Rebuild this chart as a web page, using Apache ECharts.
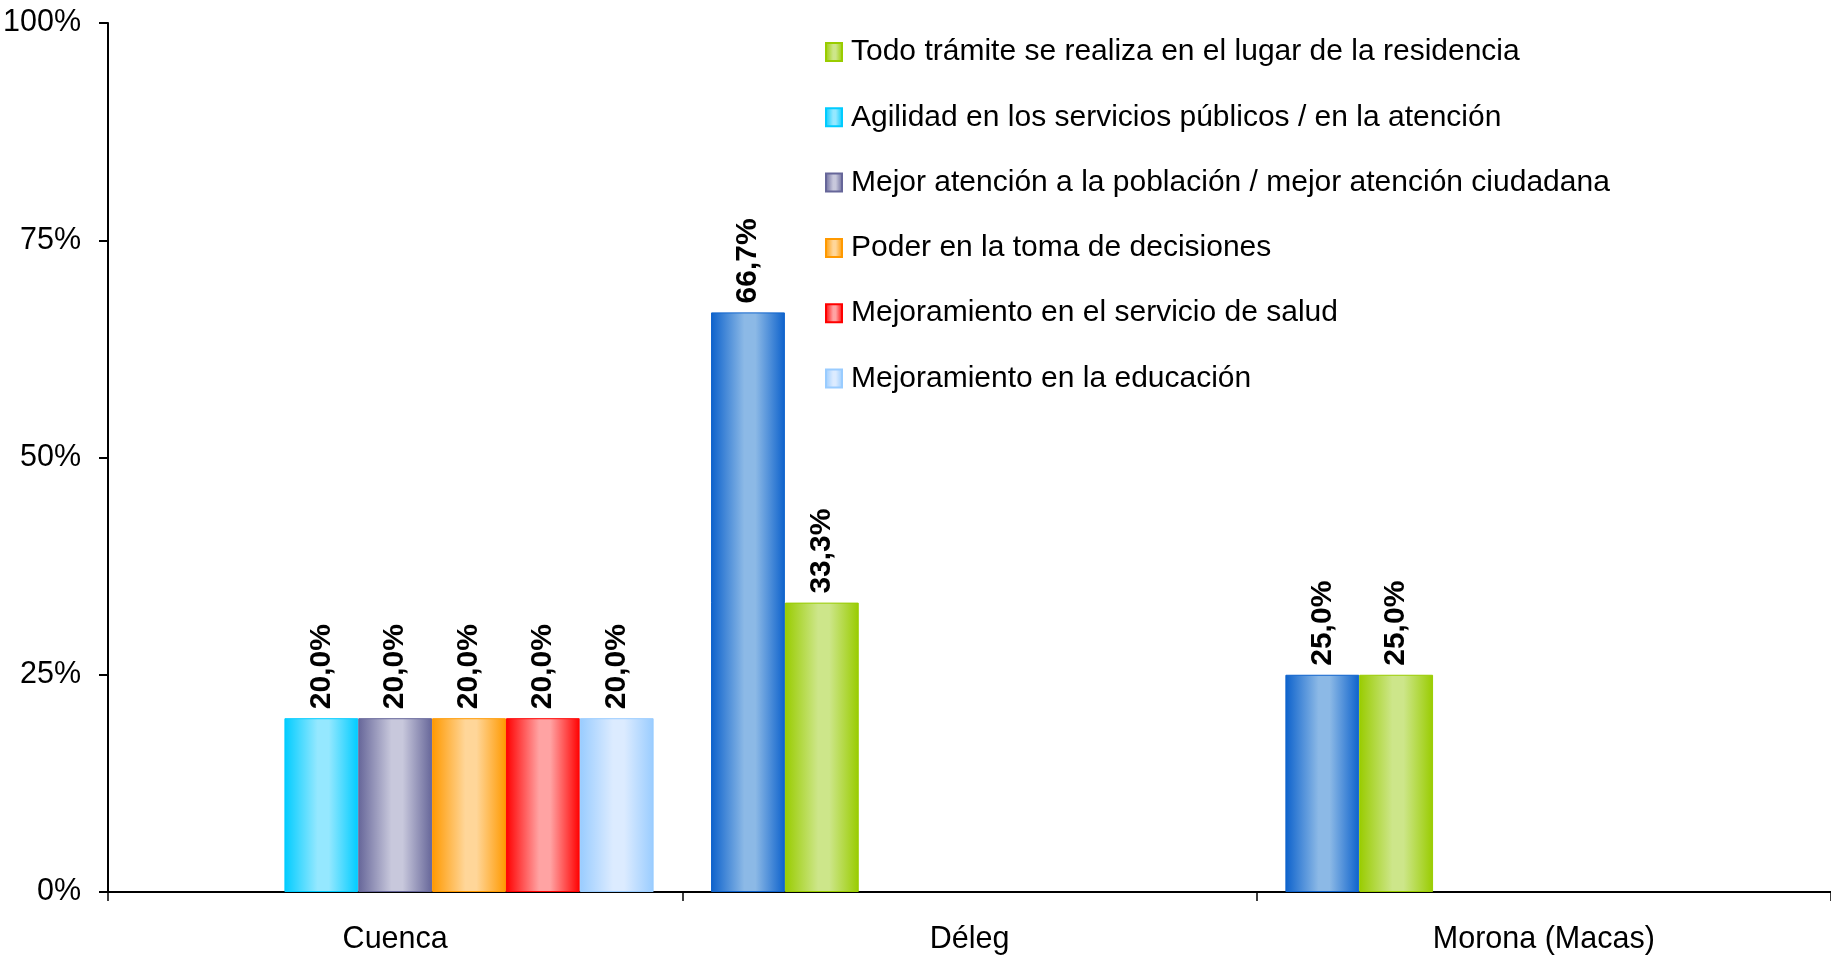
<!DOCTYPE html>
<html>
<head>
<meta charset="utf-8">
<script src="https://cdn.jsdelivr.net/npm/echarts@6/dist/echarts.min.js"></script>
<style>
html,body{margin:0;padding:0;background:#fff;}
#chart{width:1831px;height:959px;}
</style>
</head>
<body>
<div id="chart"></div>
<script>
const categories = ['Cuenca', 'Déleg', 'Morona (Macas)'];
const seriesNames = [
  'Otros',
  'Todo trámite se realiza en el lugar de la residencia',
  'Agilidad en los servicios públicos / en la atención',
  'Mejor atención a la población / mejor atención ciudadana',
  'Poder en la toma de decisiones',
  'Mejoramiento en el servicio de salud',
  'Mejoramiento en la educación'
];
const valuesOtros = [null, 66.7, 25.0];
const valuesTodoTramite = [null, 33.3, 25.0];
const valuesAgilidad = [20.0, null, null];
const valuesMejorAtencion = [20.0, null, null];
const valuesPoder = [20.0, null, null];
const valuesSalud = [20.0, null, null];
const valuesEducacion = [20.0, null, null];
const legendNames = seriesNames.slice(1);
const yTicks = [0, 25, 50, 75, 100];

const allValues = [valuesOtros, valuesTodoTramite, valuesAgilidad, valuesMejorAtencion, valuesPoder, valuesSalud, valuesEducacion];
const palette = [
  ['#0d62cc', '#8cb9e6'],
  ['#99cc00', '#cde68a'],
  ['#00ccff', '#95e8ff'],
  ['#666699', '#c8c8dc'],
  ['#ff9900', '#ffd699'],
  ['#ff0000', '#ffa3a3'],
  ['#99ccff', '#dcebff']
];
function grad(edge, mid) {
  return new echarts.graphic.LinearGradient(0, 0, 1, 0, [
    {offset: 0, color: edge},
    {offset: 0.45, color: mid},
    {offset: 0.6, color: mid},
    {offset: 1, color: edge}
  ]);
}
const FONT = 'Liberation Sans';
const series = seriesNames.map((name, i) => ({
  name: name,
  type: 'bar',
  data: allValues[i],
  barGap: '0%',
  barCategoryGap: '10%',
  itemStyle: {
    color: grad(palette[i][0], palette[i][1]),
    borderColor: palette[i][0],
    borderWidth: 1
  },
  label: {
    show: true,
    position: 'top',
    rotate: 90,
    align: 'left',
    verticalAlign: 'middle',
    distance: 9,
    fontFamily: FONT,
    fontSize: 30,
    fontWeight: 'bold',
    color: '#000',
    formatter: p => p.value == null ? '' : p.value.toFixed(1).replace('.', ',') + '%'
  }
}));

const chart = echarts.init(document.getElementById('chart'));
chart.setOption({
  animation: false,
  backgroundColor: '#fff',
  grid: {left: 107, right: -6, top: 23, bottom: 67, containLabel: false},
  legend: {
    data: legendNames,
    orient: 'vertical',
    left: 820,
    top: 32,
    itemWidth: 16,
    itemHeight: 18,
    itemGap: 35.3,
    icon: 'rect',
    textStyle: {fontFamily: FONT, fontSize: 30, color: '#000', padding: [0, 0, 0, 4]}
  },
  xAxis: {
    type: 'category',
    data: categories,
    axisLine: {lineStyle: {color: '#000', width: 2}},
    axisTick: {show: true, length: 9, lineStyle: {color: '#000', width: 1.5}},
    axisLabel: {fontFamily: FONT, fontSize: 30.5, color: '#000', margin: 32}
  },
  yAxis: {
    type: 'value',
    min: yTicks[0],
    max: yTicks[yTicks.length - 1],
    interval: 25,
    splitLine: {show: false},
    axisLine: {show: true, lineStyle: {color: '#000', width: 2}},
    axisTick: {show: true, length: 9, lineStyle: {color: '#000', width: 2}},
    axisLabel: {fontFamily: FONT, fontSize: 30.5, color: '#000', margin: 27, formatter: '{value}%'}
  },
  series: series
});
</script>
</body>
</html>
